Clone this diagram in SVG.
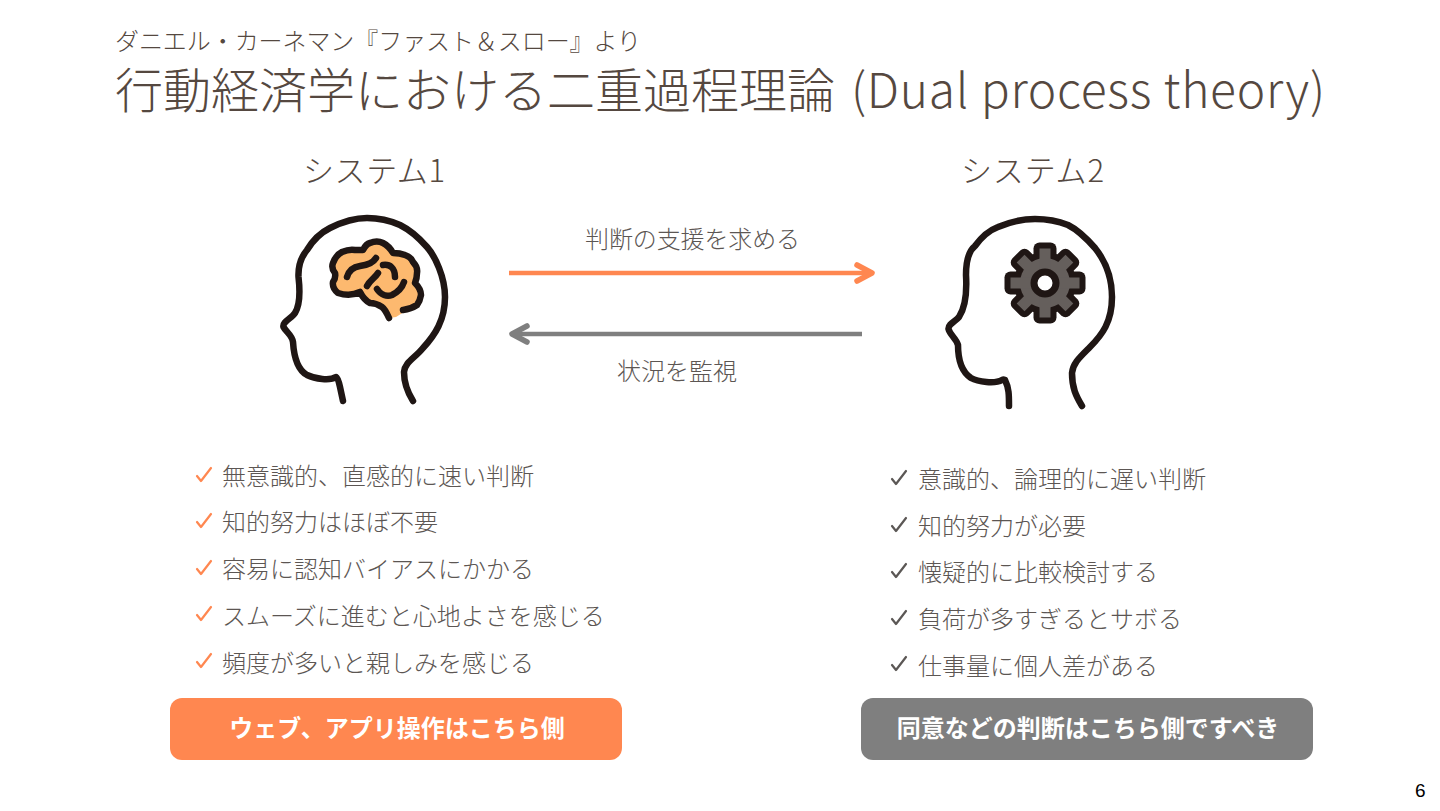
<svg xmlns="http://www.w3.org/2000/svg" xmlns:xlink="http://www.w3.org/1999/xlink" width="1440" height="811" viewBox="0 0 1440 811">
<style>
text{font-family:"Noto Sans CJK JP","Noto Sans",sans-serif;font-weight:300;fill:#554840}
.title{font-size:48px}
.sub{font-size:24px}
.sys{font-size:31px}
.lbl{font-size:24px;fill:#5c5653}
.row{font-size:24px;fill:#5c5653}
.btn{font-size:24px;font-weight:700;fill:#fff;text-anchor:middle}
.head{fill:none;stroke:#1f1614;stroke-width:6.500;stroke-linecap:round;stroke-linejoin:round}
.ck{fill:none;stroke-width:2.200;stroke-linecap:round;stroke-linejoin:round}
.line{fill:none;stroke-width:4.500}
.tip{fill:none;stroke-width:5.500;stroke-linecap:round;stroke-linejoin:round}
</style>
<defs>
<path id="ck" d="M-5 0L-1 5L9 -8"/>
<rect id="tooth" x="-5.500" y="-34.500" width="11" height="34.500"/>
<g id="gearshape">
<circle r="25"/>
<use xlink:href="#tooth"/><use xlink:href="#tooth" transform="rotate(45)"/><use xlink:href="#tooth" transform="rotate(90)"/><use xlink:href="#tooth" transform="rotate(135)"/><use xlink:href="#tooth" transform="rotate(180)"/><use xlink:href="#tooth" transform="rotate(225)"/><use xlink:href="#tooth" transform="rotate(270)"/><use xlink:href="#tooth" transform="rotate(315)"/>
</g>
</defs>
<rect width="1440" height="811" fill="#fff"/>
<g id="title">
<text class="sub" x="115" y="50" textLength="526">ダニエル・カーネマン『ファスト＆スロー』より</text>
<text class="title" y="108"><tspan x="115">行動経済学における二重過程理論 </tspan><tspan x="851" textLength="474">(Dual process theory)</tspan></text>
</g>
<g id="system1">
<text class="sys" x="303" y="182" textLength="142">システム1</text>
<g id="head1">
<path d="M389 318L382 307Q376 303 370 303Q364 300 360 292Q350 297 338 293Q332 288 333 282Q336 278 335 273Q331 268 333 263Q336 255 342 252Q349 249 355 250L363 250Q366 244 370 243Q377 240 383 243Q389 246 393 253Q400 253 405 255Q411 257 413 262Q418 267 417 273Q417 278 415 283Q421 289 421 295Q420 301 417 305L404 312L396 317Z" fill="#fdb96f"/>
<path class="head" d="M343 401L340 387Q338 378 336 377C330 381 315 379 307 375C298 370 294 358 293 342C292 335 286 332 283.500 327C282 322 292 318 295 313C300 305 300 290 298.500 277C298 265 302 256 307 250C313 240 322 232 330 228C342 222 355 218 367 218C380 218 391 221 400 225C412 231 420 239 427 247C435 256 445 277 445 297C445 320 435 335 423 348C415 358 405 362 404 372C404 385 408 393 413 401"/>
<path class="head" d="M389 318Q385 309 382 307Q376 303 370 303Q364 300 360 292Q350 297 338 293Q332 288 333 282Q336 278 335 273Q331 268 333 263Q336 255 342 252Q349 249 355 250L363 250Q366 244 370 243Q377 240 383 243Q389 246 393 253Q400 253 405 255Q411 257 413 262Q418 267 417 273Q417 278 415 283Q421 289 421 295Q420 301 417 305Q411 309 403 310"/>
<path class="head" d="M347 277C349 270 353 267 360 266C368 265 373 263 376 258M367 286C370 280 375 278 378 273M383 265C390 264 395 268 395 277M377 289C381 295 387 297 392 295C398 292 402 288 404 282"/>
</g>
</g>
<g id="system2">
<text class="sys" x="961" y="182" textLength="143">システム2</text>
<g id="head2">
<path class="head" d="M1009 406C1009 395 1009 388 1005 380Q1003 379 1002 380C995 384 978 382 971 378C962 372 958 360 958 345C956 338 950 335 948.500 329C948 324 956 321 959 317C965 308 967 292 966 275C966 258 970 250 975 246C983 235 990 230 998 227C1010 222 1022 219 1035 219C1047 219 1058 221 1068 225C1080 231 1088 240 1095 248C1103 258 1112 275 1112 297C1112 322 1102 335 1090 347C1080 357 1073 363 1072 373C1072 388 1076 396 1082 406"/>
<g id="gear" transform="translate(1045 283)">
<use xlink:href="#gearshape" fill="#1f1614" stroke="#1f1614" stroke-width="12" stroke-linejoin="round"/>
<use xlink:href="#gearshape" fill="#655f5c"/>
<circle r="11" fill="#fff" stroke="#1f1614" stroke-width="7"/>
</g>
</g>
</g>
<g id="connectors">
<line class="line" x1="509" y1="273" x2="870" y2="273" stroke="#ff8750"/>
<path class="tip" d="M857 265L872 273L857 281" stroke="#ff8750"/>
<line class="line" x1="862" y1="334" x2="514" y2="334" stroke="#7f7f7f"/>
<path class="tip" d="M527 326L512 334L527 342" stroke="#7f7f7f"/>
</g>
<g id="label-support"><text class="lbl" x="585" y="248" textLength="215">判断の支援を求める</text></g>
<g id="label-monitor"><text class="lbl" x="617" y="380" textLength="120">状況を監視</text></g>
<g id="list1">
<g stroke="#ff8750" class="ck">
<use xlink:href="#ck" x="202" y="476"/><use xlink:href="#ck" x="202" y="522"/><use xlink:href="#ck" x="202" y="569"/><use xlink:href="#ck" x="202" y="615"/><use xlink:href="#ck" x="202" y="662"/>
</g>
<text class="row" x="222" y="485">無意識的、直感的に速い判断</text>
<text class="row" x="222" y="531">知的努力はほぼ不要</text>
<text class="row" x="222" y="578">容易に認知バイアスにかかる</text>
<text class="row" x="222" y="625">スムーズに進むと心地よさを感じる</text>
<text class="row" x="222" y="672">頻度が多いと親しみを感じる</text>
</g>
<g id="list2">
<g stroke="#5b5755" class="ck">
<use xlink:href="#ck" x="897" y="479"/><use xlink:href="#ck" x="897" y="526"/><use xlink:href="#ck" x="897" y="572"/><use xlink:href="#ck" x="897" y="619"/><use xlink:href="#ck" x="897" y="665"/>
</g>
<text class="row" x="918" y="488">意識的、論理的に遅い判断</text>
<text class="row" x="918" y="535">知的努力が必要</text>
<text class="row" x="918" y="581">懐疑的に比較検討する</text>
<text class="row" x="918" y="628">負荷が多すぎるとサボる</text>
<text class="row" x="918" y="675">仕事量に個人差がある</text>
</g>
<g id="button1">
<rect x="170" y="698" width="452" height="62" rx="12" fill="#ff8750"/>
<text class="btn" x="397" y="737">ウェブ、アプリ操作はこちら側</text>
</g>
<g id="button2">
<rect x="861" y="698" width="452" height="62" rx="12" fill="#7f7f7f"/>
<text class="btn" x="1088" y="737">同意などの判断はこちら側ですべき</text>
</g>
<text id="page" x="1415" y="797" style="font-family:'Liberation Sans',sans-serif;font-size:19px;font-weight:400;fill:#000">6</text>
</svg>
